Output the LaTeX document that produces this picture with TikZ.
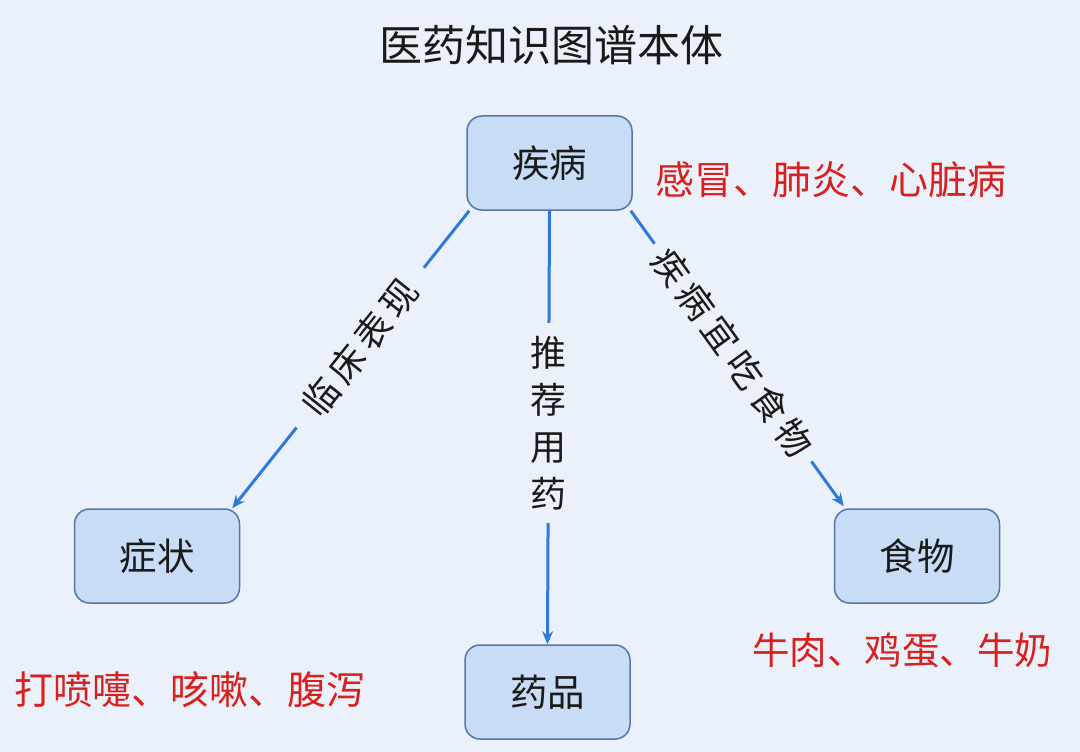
\documentclass[tikz,border=0pt]{standalone}
\usepackage{fontspec}
\setmainfont{Noto Sans CJK SC}
\newfontfamily\spacedcjk[LetterSpace=16.7]{Noto Sans CJK SC}
\usetikzlibrary{arrows.meta}
\definecolor{bgc}{HTML}{EBF1FB}
\definecolor{boxfill}{HTML}{C8DCF6}
\definecolor{boxline}{HTML}{5676A8}
\definecolor{edgec}{HTML}{2F7AD6}
\definecolor{redc}{HTML}{D8211F}
\definecolor{txt}{HTML}{1A1A1A}
\tikzset{
  entity/.style={draw=boxline, line width=1.5pt, fill=boxfill, rounded corners=15pt,
    minimum width=165pt, minimum height=94pt, font=\fontsize{37.5}{40}\selectfont, text=txt},
  rel/.style={draw=edgec, line width=3pt, -{Stealth[length=13pt,width=11pt]}},
  rellabel/.style={fill=bgc, font=\fontsize{36}{47}\selectfont, text=txt, inner ysep=4pt},
  slopedlabel/.style={rellabel, sloped, font=\spacedcjk\fontsize{36}{47}\selectfont},
  example/.style={font=\fontsize{39}{42}\selectfont, text=redc},
}
\begin{document}
\begin{tikzpicture}[x=1pt,y=-1pt]
\fill[bgc] (0,0) rectangle (1080,752);
\useasboundingbox (0,0) rectangle (1080,752);
\node[font=\fontsize{43}{46}\selectfont, text=txt] (title) at (551,45) {医药知识图谱本体};
\node[entity] (jb) at (549.5,163) {疾病};
\node[entity] (zz) at (157,556) {症状};
\node[entity] (yp) at (547.5,692) {药品};
\node[entity] (sw) at (917,556) {食物};
\node[example] (ex1) at (831,180) {感冒、肺炎、心脏病};
\node[example] (ex2) at (190,690) {打喷嚏、咳嗽、腹泻};
\node[example, font=\fontsize{37.5}{42}\selectfont] (ex3) at (902,650) {牛肉、鸡蛋、牛奶};
\draw[rel] ([xshift=3pt]jb.south west) -- ([xshift=-8pt]zz.north east)
  node[slopedlabel, pos=0.46, inner xsep=21pt] (l1) {临床表现};
\draw[rel] (jb.south) -- (yp.north)
  node[rellabel, pos=0.49, align=center, inner xsep=4pt, inner ysep=13pt] (l2) {推\\荐\\用\\药};
\draw[rel] ([xshift=-2pt]jb.south east) -- ([xshift=10pt,yshift=2pt]sw.north west)
  node[slopedlabel, pos=0.48, inner xsep=11pt] (l3) {疾病宜吃食物};
\end{tikzpicture}
\end{document}
